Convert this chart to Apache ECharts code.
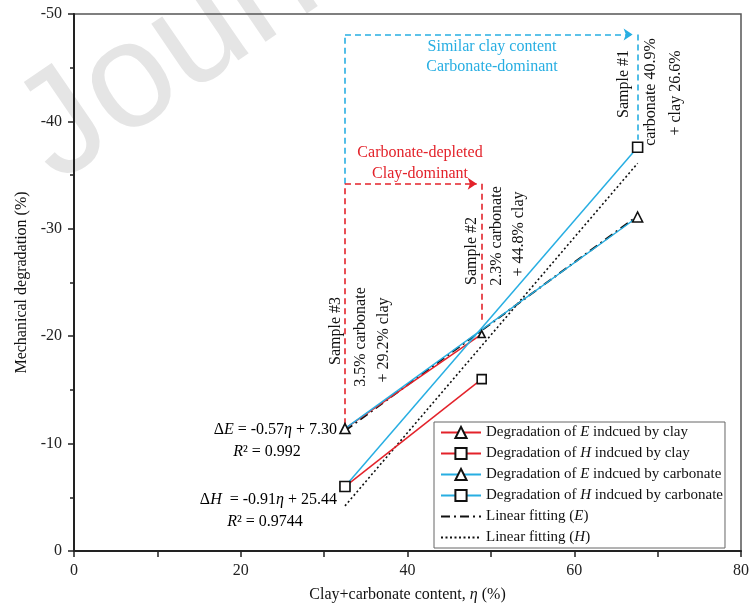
<!DOCTYPE html>
<html>
<head>
<meta charset="utf-8">
<script src="https://cdn.jsdelivr.net/npm/echarts@6/dist/echarts.min.js"></script>
<style>
  html, body { margin: 0; padding: 0; background: #fff; }
  #chart { width: 752px; height: 607px; }
</style>
</head>
<body>
<div id="chart"></div>
<script>
// samples: #3, #2, #1 (clay+carbonate content, %)
const sampleX = [32.5, 48.9, 67.6];
// clay series: sample #3 -> sample #2
const eClay = [-11.4, -20.2];
const hClay = [-6.0, -16.0];
// carbonate series: sample #3 -> sample #1
const eCarb = [-11.4, -31.1];
const hCarb = [-6.0, -37.6];
// linear fits drawn over the data range
const fitX = [32.5, 67.6];
const fitE = [-11.2, -31.2];
const fitH = [-4.2, -36.1];
// annotation arrows (y levels in data units)
const blueArrowY = -48.1;
const redArrowY = -34.2;
const blueStartY = -34.2, blueEndY = -38.3;
const redStartY = -11.8, redEndY = -21.3;

const xTicks = [0, 20, 40, 60, 80];
const yTicks = [0, -10, -20, -30, -40, -50];

const RED = '#e3222a';
const BLUE = '#27aee2';
const FONT = '"Liberation Serif", "DejaVu Serif", serif';

const names = [
  'Degradation of E indcued by clay',
  'Degradation of H indcued by clay',
  'Degradation of E indcued by carbonate',
  'Degradation of H indcued by carbonate',
  'Linear fitting (E)',
  'Linear fitting (H)'
];

const pts = (xs, ys) => ys.map((y, i) => [xs[i], y]);
const clayX = [sampleX[0], sampleX[1]];
const carbX = [sampleX[0], sampleX[2]];

const markerStyle = { color: '#fff', borderColor: '#111', borderWidth: 1.6 };

const chart = echarts.init(document.getElementById('chart'));

const option = {
  animation: false,
  textStyle: { fontFamily: FONT },
  grid: {
    left: 74, right: 11, top: 14, bottom: 56,
    show: true, borderColor: '#555', borderWidth: 1.5,
    outerBoundsMode: 'none'
  },
  xAxis: {
    type: 'value', min: 0, max: 80, interval: 20,
    name: 'Clay+carbonate content, {i|η} (%)',
    nameLocation: 'middle', nameGap: 36,
    nameTextStyle: {
      fontFamily: FONT, fontSize: 16, color: '#111',
      rich: { i: { fontFamily: FONT, fontSize: 16, fontStyle: 'italic', color: '#111' } }
    },
    axisLine: { lineStyle: { color: '#222', width: 2 } },
    axisTick: { length: 6, inside: false, lineStyle: { color: '#222', width: 1.5 } },
    minorTick: { show: true, splitNumber: 2, length: 6, lineStyle: { color: '#222', width: 1.5 } },
    splitLine: { show: false },
    axisLabel: { fontFamily: FONT, fontSize: 16, color: '#222', margin: 12,
      formatter: v => xTicks.includes(v) ? String(v) : '' }
  },
  yAxis: {
    type: 'value', min: -50, max: 0, interval: 10, inverse: true,
    name: 'Mechanical degradation (%)',
    nameLocation: 'middle', nameGap: 42,
    nameTextStyle: { fontFamily: FONT, fontSize: 16, color: '#111' },
    axisLine: { lineStyle: { color: '#222', width: 2 } },
    axisTick: { length: 6, lineStyle: { color: '#222', width: 1.5 } },
    minorTick: { show: true, splitNumber: 2, length: 4, lineStyle: { color: '#222', width: 1.5 } },
    splitLine: { show: false },
    axisLabel: { fontFamily: FONT, fontSize: 16, color: '#222', margin: 12,
      formatter: v => yTicks.includes(v) ? String(v) : '' }
  },
  legend: {
    data: names.map((n, i) => i < 4 ? n : { name: n, itemStyle: { opacity: 0 } }),
    orient: 'vertical',
    left: 434, top: 422,
    padding: [3, 2, 3, 6],
    itemWidth: 40, itemHeight: 14, itemGap: 6,
    backgroundColor: '#fff',
    borderColor: '#666', borderWidth: 1,
    borderRadius: 0,
    formatter: n => n.replace(/\b([EH])\b/, '{i|$1}'),
    textStyle: {
      fontFamily: FONT, fontSize: 15, color: '#111', padding: [0, 0, 0, 0],
      rich: { i: { fontFamily: FONT, fontSize: 15, fontStyle: 'italic', color: '#111' } }
    }
  },
  series: [
    // annotation paths (dashed)
    {
      type: 'lines', coordinateSystem: 'cartesian2d', silent: true, z: 1,
      symbol: ['none', 'none'],
      lineStyle: { type: [6, 4], width: 1.6, opacity: 1 },
      data: [
        { coords: [[sampleX[0], blueStartY], [sampleX[0], blueArrowY]], lineStyle: { color: BLUE } },
        { coords: [[sampleX[2], blueArrowY], [sampleX[2], blueEndY]], lineStyle: { color: BLUE } },
        { coords: [[sampleX[0], redStartY], [sampleX[0], redArrowY]], lineStyle: { color: RED } },
        { coords: [[sampleX[1], redArrowY], [sampleX[1], redEndY]], lineStyle: { color: RED } }
      ]
    },
    {
      type: 'lines', coordinateSystem: 'cartesian2d', silent: true, z: 1,
      symbol: ['none', 'arrow'], symbolSize: 9,
      lineStyle: { type: [6, 4], width: 1.6, opacity: 1 },
      data: [
        { coords: [[sampleX[0], blueArrowY], [sampleX[2] - 0.6, blueArrowY]], lineStyle: { color: BLUE } },
        { coords: [[sampleX[0], redArrowY], [sampleX[1] - 0.6, redArrowY]], lineStyle: { color: RED } }
      ]
    },
    {
      name: names[4], type: 'line', data: pts(fitX, fitE), symbol: 'none', z: 3,
      lineStyle: { color: '#111', width: 2, type: [9, 4, 2, 4] }, itemStyle: { color: '#111' }
    },
    {
      name: names[5], type: 'line', data: pts(fitX, fitH), symbol: 'none', z: 3,
      lineStyle: { color: '#111', width: 1.6, type: [2, 2.5] }, itemStyle: { color: '#111' }
    },
    {
      name: names[0], type: 'line', data: pts(clayX, eClay), z: 4,
      symbol: 'triangle', symbolSize: 7,
      lineStyle: { color: RED, width: 1.5 }, itemStyle: markerStyle
    },
    {
      name: names[1], type: 'line', data: pts(clayX, hClay), z: 4,
      symbol: 'rect', symbolSize: 9,
      lineStyle: { color: RED, width: 1.5 }, itemStyle: markerStyle
    },
    {
      name: names[2], type: 'line', data: pts(carbX, eCarb), z: 4,
      symbol: 'triangle', symbolSize: 10,
      lineStyle: { color: BLUE, width: 1.5 }, itemStyle: markerStyle
    },
    {
      name: names[3], type: 'line', data: pts(carbX, hCarb), z: 4,
      symbol: 'rect', symbolSize: 10,
      lineStyle: { color: BLUE, width: 1.5 }, itemStyle: markerStyle
    }
  ]
};

chart.setOption(option);

// text annotations
const plain = (txt, x, y, color, extra) => Object.assign({
  type: 'text', x: x, y: y, silent: true, z: 10,
  style: { text: txt, fill: color || '#111', font: '16px ' + FONT, textAlign: 'center', textVerticalAlign: 'middle' }
}, extra || {});
const vert = (txt, x, y) => plain(txt, x, y, '#111', { rotation: Math.PI / 2 });
const richStyles = {
  n: { fontFamily: FONT, fontSize: 16, color: '#111' },
  i: { fontFamily: FONT, fontSize: 16, fontStyle: 'italic', color: '#111' }
};
const eq = (txt, x, y, align) => ({
  type: 'text', x: x, y: y, silent: true, z: 10,
  style: { text: txt, rich: richStyles, textAlign: align, textVerticalAlign: 'middle', font: '16px ' + FONT }
});

chart.setOption({
  graphic: [
    {
      type: 'text', x: 34, y: 150, rotation: 0.6, silent: true, z: -10,
      style: { text: 'Journal Pre-proof', fill: '#e5e5e5', font: '150px "Liberation Sans", Arial, sans-serif', textAlign: 'left', textVerticalAlign: 'middle' }
    },
    plain('Similar clay content', 492, 47, BLUE),
    plain('Carbonate-dominant', 492, 67, BLUE),
    plain('Carbonate-depleted', 420, 153, RED),
    plain('Clay-dominant', 420, 174, RED),
    vert('Sample #1', 624, 84),
    vert('carbonate 40.9%', 651, 92),
    vert('+ clay 26.6%', 676, 93),
    vert('Sample #2', 472, 251),
    vert('2.3% carbonate', 497, 236),
    vert('+ 44.8% clay', 519, 234),
    vert('Sample #3', 336, 331),
    vert('3.5% carbonate', 361, 337),
    vert('+ 29.2% clay', 384, 340),
    eq('{n|Δ}{i|E}{n| = -0.57}{i|η}{n| + 7.30}', 337, 430, 'right'),
    eq('{i|R}{n|² = 0.992}', 267, 452, 'center'),
    eq('{n|Δ}{i|H}{n|  = -0.91}{i|η}{n| + 25.44}', 337, 500, 'right'),
    eq('{i|R}{n|² = 0.9744}', 265, 522, 'center')
  ]
});
</script>
</body>
</html>
